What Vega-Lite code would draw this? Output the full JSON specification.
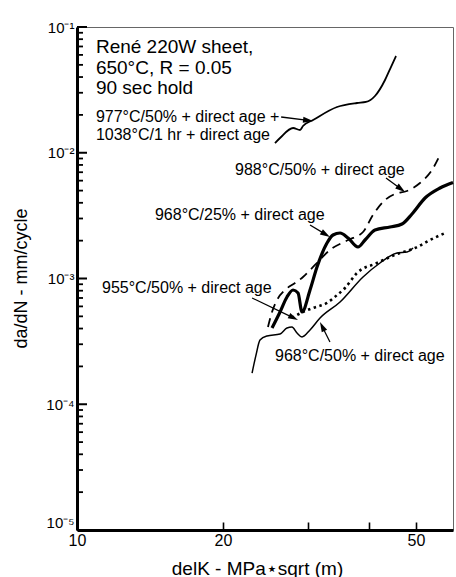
{
  "$schema": "https://vega.github.io/schema/vega-lite/v6.json",
  "width": 376,
  "height": 503,
  "autosize": {"type": "none"},
  "padding": {"left": 77, "top": 27, "right": 3, "bottom": 47},
  "background": "white",
  "config": {
    "font": "Liberation Sans",
    "view": {"stroke": "#666", "strokeWidth": 1},
    "axis": {"grid": false}
  },
  "datasets": {
    "curves": [
      {"s": "977", "x": 25.6, "y": 0.01195},
      {"s": "977", "x": 26.22, "y": 0.0131},
      {"s": "977", "x": 27.89, "y": 0.01573},
      {"s": "977", "x": 28.83, "y": 0.01517},
      {"s": "977", "x": 29.24, "y": 0.01632},
      {"s": "977", "x": 30.67, "y": 0.01821},
      {"s": "977", "x": 34.37, "y": 0.02311},
      {"s": "977", "x": 37.78, "y": 0.02486},
      {"s": "977", "x": 39.43, "y": 0.02533},
      {"s": "977", "x": 41.15, "y": 0.02827},
      {"s": "977", "x": 43.16, "y": 0.03791},
      {"s": "977", "x": 44.2, "y": 0.04634},
      {"s": "977", "x": 45.48, "y": 0.0588},

      {"s": "988", "x": 24.76, "y": 0.000411},
      {"s": "988", "x": 25.24, "y": 0.000542},
      {"s": "988", "x": 25.85, "y": 0.000675},
      {"s": "988", "x": 26.85, "y": 0.00081},
      {"s": "988", "x": 28.16, "y": 0.000921},
      {"s": "988", "x": 29.24, "y": 0.001028},
      {"s": "988", "x": 30.95, "y": 0.001281},
      {"s": "988", "x": 33.23, "y": 0.001685},
      {"s": "988", "x": 36.22, "y": 0.002024},
      {"s": "988", "x": 38.88, "y": 0.002343},
      {"s": "988", "x": 40.76, "y": 0.003198},
      {"s": "988", "x": 43.16, "y": 0.004209},
      {"s": "988", "x": 45.26, "y": 0.004699},
      {"s": "988", "x": 47.9, "y": 0.004964},
      {"s": "988", "x": 50.95, "y": 0.005746},
      {"s": "988", "x": 53.95, "y": 0.007291},
      {"s": "988", "x": 56.04, "y": 0.009597},

      {"s": "968_25", "x": 25.24, "y": 0.000404},
      {"s": "968_25", "x": 26.22, "y": 0.000542},
      {"s": "968_25", "x": 27.1, "y": 0.000713},
      {"s": "968_25", "x": 27.89, "y": 0.00081},
      {"s": "968_25", "x": 28.56, "y": 0.000767},
      {"s": "968_25", "x": 29.1, "y": 0.000542},
      {"s": "968_25", "x": 30.23, "y": 0.00081},
      {"s": "968_25", "x": 31.25, "y": 0.001234},
      {"s": "968_25", "x": 32.77, "y": 0.001915},
      {"s": "968_25", "x": 33.72, "y": 0.002218},
      {"s": "968_25", "x": 34.86, "y": 0.0023},
      {"s": "968_25", "x": 36.22, "y": 0.0021},
      {"s": "968_25", "x": 37.96, "y": 0.00178},
      {"s": "968_25", "x": 39.25, "y": 0.002024},
      {"s": "968_25", "x": 41.15, "y": 0.00243},
      {"s": "968_25", "x": 44.2, "y": 0.002567},
      {"s": "968_25", "x": 46.79, "y": 0.002713},
      {"s": "968_25", "x": 49.06, "y": 0.003257},
      {"s": "968_25", "x": 52.19, "y": 0.004367},
      {"s": "968_25", "x": 56.04, "y": 0.005245},
      {"s": "968_25", "x": 59.6, "y": 0.0058},

      {"s": "955", "x": 27.75, "y": 0.000485},
      {"s": "955", "x": 29.24, "y": 0.000542},
      {"s": "955", "x": 30.67, "y": 0.000583},
      {"s": "955", "x": 32.77, "y": 0.000639},
      {"s": "955", "x": 34.37, "y": 0.000739},
      {"s": "955", "x": 35.7, "y": 0.00084},
      {"s": "955", "x": 37.78, "y": 0.001106},
      {"s": "955", "x": 41.55, "y": 0.001328},
      {"s": "955", "x": 44.2, "y": 0.001483},
      {"s": "955", "x": 46.35, "y": 0.001595},
      {"s": "955", "x": 49.77, "y": 0.001748},
      {"s": "955", "x": 53.43, "y": 0.002024},
      {"s": "955", "x": 57.39, "y": 0.0023},

      {"s": "968_50", "x": 22.96, "y": 0.000177},
      {"s": "968_50", "x": 23.39, "y": 0.000246},
      {"s": "968_50", "x": 23.84, "y": 0.000324},
      {"s": "968_50", "x": 24.65, "y": 0.000349},
      {"s": "968_50", "x": 26.22, "y": 0.000362},
      {"s": "968_50", "x": 27.1, "y": 0.000404},
      {"s": "968_50", "x": 27.75, "y": 0.000411},
      {"s": "968_50", "x": 28.42, "y": 0.000369},
      {"s": "968_50", "x": 29.1, "y": 0.000343},
      {"s": "968_50", "x": 30.23, "y": 0.00039},
      {"s": "968_50", "x": 31.7, "y": 0.000485},
      {"s": "968_50", "x": 34.86, "y": 0.00065},
      {"s": "968_50", "x": 38.88, "y": 0.001028},
      {"s": "968_50", "x": 42.14, "y": 0.001328},
      {"s": "968_50", "x": 45.69, "y": 0.001595},
      {"s": "968_50", "x": 47.9, "y": 0.001624},
      {"s": "968_50", "x": 49.3, "y": 0.001748}
    ],
    "yticks": [
      {"v": 0.00001, "kind": "major"}, {"v": 0.0001, "kind": "major"}, {"v": 0.001, "kind": "major"}, {"v": 0.01, "kind": "major"}, {"v": 0.1, "kind": "major"},
      {"v": 0.00002, "kind": "minor"}, {"v": 0.00003, "kind": "minor"}, {"v": 0.00004, "kind": "minor"}, {"v": 0.00005, "kind": "minor"},
      {"v": 0.00006, "kind": "minor"}, {"v": 0.00007, "kind": "minor"}, {"v": 0.00008, "kind": "minor"}, {"v": 0.00009, "kind": "minor"},
      {"v": 0.0002, "kind": "minor"}, {"v": 0.0003, "kind": "minor"}, {"v": 0.0004, "kind": "minor"}, {"v": 0.0005, "kind": "minor"},
      {"v": 0.0006, "kind": "minor"}, {"v": 0.0007, "kind": "minor"}, {"v": 0.0008, "kind": "minor"}, {"v": 0.0009, "kind": "minor"},
      {"v": 0.002, "kind": "minor"}, {"v": 0.003, "kind": "minor"}, {"v": 0.004, "kind": "minor"}, {"v": 0.005, "kind": "minor"},
      {"v": 0.006, "kind": "minor"}, {"v": 0.007, "kind": "minor"}, {"v": 0.008, "kind": "minor"}, {"v": 0.009, "kind": "minor"},
      {"v": 0.02, "kind": "minor"}, {"v": 0.03, "kind": "minor"}, {"v": 0.04, "kind": "minor"}, {"v": 0.05, "kind": "minor"},
      {"v": 0.06, "kind": "minor"}, {"v": 0.07, "kind": "minor"}, {"v": 0.08, "kind": "minor"}, {"v": 0.09, "kind": "minor"}
    ],
    "arrows": [
      {"id": "977", "x": 26.36, "y": 0.01924, "x2": 29.95, "y2": 0.01808},
      {"id": "988", "x": 43.36, "y": 0.006298, "x2": 46.56, "y2": 0.005149},
      {"id": "968_25", "x": 30.23, "y": 0.002663, "x2": 32.56, "y2": 0.002243},
      {"id": "955", "x": 22.96, "y": 0.0007, "x2": 27.95, "y2": 0.000487},
      {"id": "968_50", "x": 33.23, "y": 0.0003126, "x2": 32.03, "y2": 0.000415}
    ],
    "heads": [
      {"id": "977", "x": 29.95, "y": 0.01808},
      {"id": "988", "x": 46.56, "y": 0.005149},
      {"id": "968_25", "x": 32.56, "y": 0.002243},
      {"id": "955", "x": 27.95, "y": 0.000487},
      {"id": "968_50", "x": 32.03, "y": 0.000415}
    ],
    "titleblock": [
      {"x": 10.94, "y": 0.06211, "text": "René 220W sheet,"},
      {"x": 10.94, "y": 0.04228, "text": "650°C, R = 0.05"},
      {"x": 10.94, "y": 0.02932, "text": "90 sec hold"}
    ],
    "notes": [
      {"x": 10.94, "y": 0.01756, "text": "977°C/50% + direct age +"},
      {"x": 10.94, "y": 0.01263, "text": "1038°C/1 hr + direct age"},
      {"x": 21.18, "y": 0.006653, "text": "988°C/50% + direct age"},
      {"x": 14.48, "y": 0.002918, "text": "968°C/25% + direct age"},
      {"x": 11.26, "y": 0.000767, "text": "955°C/50% + direct age"},
      {"x": 25.6, "y": 0.0002208, "text": "968°C/50% + direct age"}
    ]
  },
  "layer": [
    {
      "data": {"name": "curves"},
      "transform": [{"filter": "datum.s == '977'"}],
      "mark": {"type": "line", "color": "black", "strokeWidth": 1.8, "interpolate": "monotone"},
      "encoding": {
        "x": {
          "field": "x", "type": "quantitative",
          "scale": {"type": "log", "domain": [10, 59.6], "nice": false},
          "axis": {
            "title": "delK - MPa⋆sqrt (m)",
            "values": [10, 20, 30, 40, 50],
            "labelExpr": "datum.value == 30 || datum.value == 40 ? '' : format(datum.value, 'd')",
            "tickSize": -8, "tickWidth": 1.6, "tickColor": "black",
            "labelPadding": 10, "labelFontSize": 16, "labelColor": "black",
            "labelFlush": false, "labelOverlap": false,
            "domainWidth": 3, "domainColor": "black",
            "titleFontSize": 19, "titleFontWeight": "normal", "titleColor": "black",
            "titleX": 180, "titleY": 44, "titleBaseline": "alphabetic"
          }
        },
        "y": {
          "field": "y", "type": "quantitative",
          "scale": {"type": "log", "domain": [0.00001, 0.1], "nice": false},
          "axis": {
            "orient": "left",
            "title": "da/dN - mm/cycle",
            "values": [0.00001, 0.0001, 0.001, 0.01, 0.1],
            "labelExpr": "datum.value == 0.1 ? '10⁻¹' : datum.value == 0.01 ? '10⁻²' : datum.value == 0.001 ? '10⁻³' : datum.value == 0.0001 ? '10⁻⁴' : '10⁻⁵'",
            "labelBaseline": {"condition": {"test": "datum.value == 0.00001", "value": "bottom"}, "value": "middle"},
            "ticks": false,
            "labelPadding": 3, "labelFontSize": 15, "labelColor": "black",
            "labelFlush": false, "labelOverlap": false,
            "domainWidth": 3, "domainColor": "black",
            "titleFontSize": 18, "titleFontWeight": "normal", "titleColor": "black",
            "titleX": -56, "titleY": 251, "titleAngle": -90, "titleAlign": "center", "titleBaseline": "middle"
          }
        }
      }
    },
    {
      "data": {"name": "yticks"},
      "transform": [{"filter": "datum.kind == 'major'"}],
      "mark": {"type": "tick", "orient": "horizontal", "color": "black", "size": 10, "thickness": 2, "xOffset": 5, "opacity": 1},
      "encoding": {"x": {"datum": 10, "type": "quantitative"}, "y": {"field": "v", "type": "quantitative"}}
    },
    {
      "data": {"name": "yticks"},
      "transform": [{"filter": "datum.kind == 'minor'"}],
      "mark": {"type": "tick", "orient": "horizontal", "color": "black", "size": 6, "thickness": 1.8, "xOffset": 3, "opacity": 1},
      "encoding": {"x": {"datum": 10, "type": "quantitative"}, "y": {"field": "v", "type": "quantitative"}}
    },
    {
      "data": {"name": "curves"},
      "transform": [{"filter": "datum.s == '988'"}],
      "mark": {"type": "line", "color": "black", "strokeWidth": 1.8, "strokeDash": [9, 6], "interpolate": "monotone"},
      "encoding": {"x": {"field": "x", "type": "quantitative"}, "y": {"field": "y", "type": "quantitative"}}
    },
    {
      "data": {"name": "curves"},
      "transform": [{"filter": "datum.s == '968_25'"}],
      "mark": {"type": "line", "color": "black", "strokeWidth": 3.2, "interpolate": "monotone"},
      "encoding": {"x": {"field": "x", "type": "quantitative"}, "y": {"field": "y", "type": "quantitative"}}
    },
    {
      "data": {"name": "curves"},
      "transform": [{"filter": "datum.s == '955'"}],
      "mark": {"type": "line", "color": "black", "strokeWidth": 2.6, "strokeDash": [2.5, 3.5], "interpolate": "monotone"},
      "encoding": {"x": {"field": "x", "type": "quantitative"}, "y": {"field": "y", "type": "quantitative"}}
    },
    {
      "data": {"name": "curves"},
      "transform": [{"filter": "datum.s == '968_50'"}],
      "mark": {"type": "line", "color": "black", "strokeWidth": 1.5, "interpolate": "monotone"},
      "encoding": {"x": {"field": "x", "type": "quantitative"}, "y": {"field": "y", "type": "quantitative"}}
    },
    {
      "data": {"name": "arrows"},
      "mark": {"type": "rule", "color": "black", "strokeWidth": 1.3},
      "encoding": {
        "x": {"field": "x", "type": "quantitative"}, "y": {"field": "y", "type": "quantitative"},
        "x2": {"field": "x2"}, "y2": {"field": "y2"}
      }
    },
    {
      "data": {"name": "heads"},
      "transform": [{"filter": "datum.id == '977'"}],
      "mark": {"type": "point", "shape": "M-1,-0.6L1,0L-1,0.6Z", "filled": true, "color": "black", "opacity": 1, "size": 100, "angle": 6.5},
      "encoding": {"x": {"field": "x", "type": "quantitative"}, "y": {"field": "y", "type": "quantitative"}}
    },
    {
      "data": {"name": "heads"},
      "transform": [{"filter": "datum.id == '988'"}],
      "mark": {"type": "point", "shape": "M-1,-0.6L1,0L-1,0.6Z", "filled": true, "color": "black", "opacity": 1, "size": 100, "angle": 36.4},
      "encoding": {"x": {"field": "x", "type": "quantitative"}, "y": {"field": "y", "type": "quantitative"}}
    },
    {
      "data": {"name": "heads"},
      "transform": [{"filter": "datum.id == '968_25'"}],
      "mark": {"type": "point", "shape": "M-1,-0.6L1,0L-1,0.6Z", "filled": true, "color": "black", "opacity": 1, "size": 100, "angle": 31},
      "encoding": {"x": {"field": "x", "type": "quantitative"}, "y": {"field": "y", "type": "quantitative"}}
    },
    {
      "data": {"name": "heads"},
      "transform": [{"filter": "datum.id == '955'"}],
      "mark": {"type": "point", "shape": "M-1,-0.6L1,0L-1,0.6Z", "filled": true, "color": "black", "opacity": 1, "size": 100, "angle": 25.6},
      "encoding": {"x": {"field": "x", "type": "quantitative"}, "y": {"field": "y", "type": "quantitative"}}
    },
    {
      "data": {"name": "heads"},
      "transform": [{"filter": "datum.id == '968_50'"}],
      "mark": {"type": "point", "shape": "M-1,-0.6L1,0L-1,0.6Z", "filled": true, "color": "black", "opacity": 1, "size": 100, "angle": 243.4},
      "encoding": {"x": {"field": "x", "type": "quantitative"}, "y": {"field": "y", "type": "quantitative"}}
    },
    {
      "data": {"name": "titleblock"},
      "mark": {"type": "text", "align": "left", "baseline": "alphabetic", "fontSize": 19, "color": "black"},
      "encoding": {
        "x": {"field": "x", "type": "quantitative"}, "y": {"field": "y", "type": "quantitative"},
        "text": {"field": "text"}
      }
    },
    {
      "data": {"name": "notes"},
      "mark": {"type": "text", "align": "left", "baseline": "alphabetic", "fontSize": 16, "color": "black"},
      "encoding": {
        "x": {"field": "x", "type": "quantitative"}, "y": {"field": "y", "type": "quantitative"},
        "text": {"field": "text"}
      }
    },
    {
      "mark": {"type": "rule", "color": "black", "strokeWidth": 3},
      "encoding": {"y": {"datum": 0.1, "type": "quantitative"}}
    }
  ]
}
